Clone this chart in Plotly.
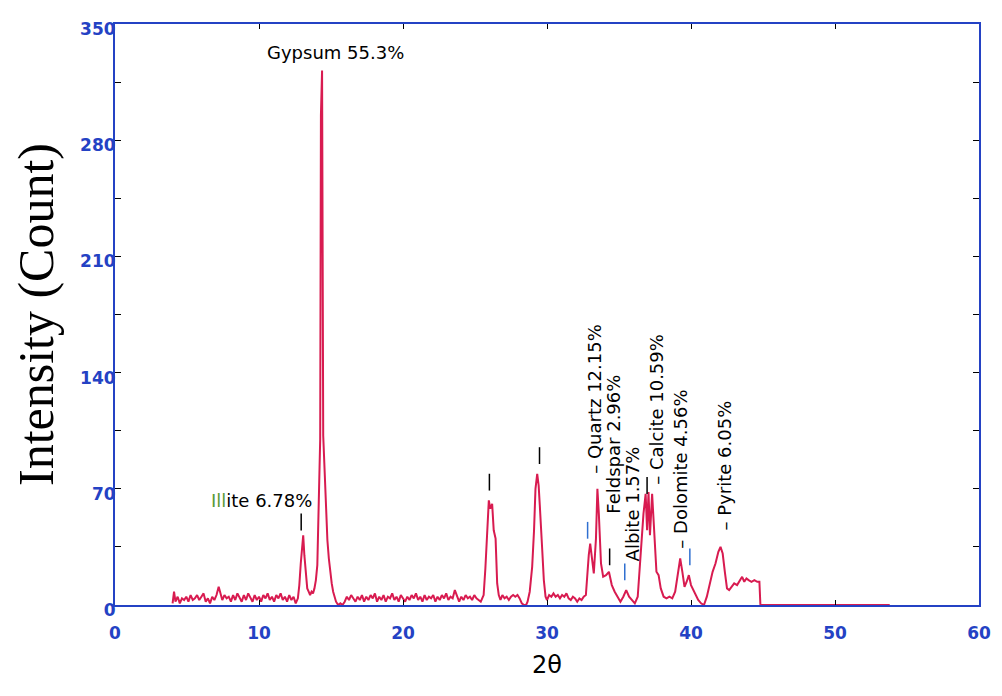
import plotly.graph_objects as go

# XRD pattern
two_theta = [
    4.0, 4.1, 4.2, 4.35, 4.5, 4.65, 4.8, 4.95, 5.1, 5.25, 5.4, 5.55, 5.7, 5.85, 6.0,
    6.15, 6.3, 6.45, 6.6, 6.75, 6.9, 7.05, 7.2, 7.3, 7.45, 7.6, 7.75, 7.9, 8.05, 8.2,
    8.35, 8.5, 8.65, 8.8, 8.95, 9.1, 9.25, 9.4, 9.55, 9.7, 9.85, 10.0, 10.15, 10.3,
    10.45, 10.6, 10.75, 10.9, 11.05, 11.2, 11.35, 11.5, 11.65, 11.8, 11.95, 12.1,
    12.25, 12.4, 12.55, 12.7,
    12.8, 12.9, 13.0, 13.07, 13.15, 13.25, 13.35, 13.45, 13.55, 13.65, 13.75, 13.85,
    13.95, 14.05, 14.15, 14.25, 14.3, 14.38, 14.46, 14.55, 14.65, 14.75, 14.85, 14.95,
    15.05, 15.15, 15.25, 15.35, 15.5, 15.65, 15.8, 15.95,
    16.1, 16.25, 16.4, 16.55, 16.7, 16.85, 17.0, 17.15, 17.3, 17.45, 17.6, 17.75,
    17.9, 18.05, 18.2, 18.35, 18.5, 18.65, 18.8, 18.95, 19.1, 19.25, 19.4, 19.55,
    19.7, 19.85, 20.0, 20.15, 20.3, 20.45, 20.6, 20.75, 20.9, 21.05, 21.2, 21.35,
    21.5, 21.65, 21.8, 21.95, 22.1, 22.25, 22.4, 22.55, 22.7, 22.85, 23.0, 23.15,
    23.3, 23.45, 23.6, 23.75, 23.9, 24.05, 24.2, 24.35, 24.5, 24.65, 24.8, 24.95,
    25.1, 25.25, 25.4,
    25.5, 25.6, 25.72, 25.84, 25.96, 26.06, 26.19, 26.3, 26.43, 26.54, 26.65, 26.77,
    26.9, 27.05, 27.2, 27.35, 27.5, 27.65, 27.8, 27.95, 28.1, 28.25, 28.4, 28.55,
    28.65, 28.8, 28.97, 29.1, 29.2, 29.32, 29.42, 29.5, 29.6, 29.67, 29.78, 29.9, 30.0,
    30.15, 30.3, 30.45, 30.6, 30.75, 30.9, 31.05, 31.2, 31.35, 31.5, 31.65, 31.8,
    31.95, 32.1, 32.25, 32.4, 32.55, 32.7,
    32.8, 32.9, 33.0, 33.1, 33.25, 33.4, 33.5, 33.6, 33.75, 33.9, 34.1, 34.3, 34.5,
    34.7, 34.9, 35.1, 35.3, 35.5, 35.7, 35.9, 36.1, 36.3, 36.5, 36.7, 36.85, 36.95,
    37.05, 37.15, 37.3, 37.45, 37.6, 37.75, 37.9, 38.1, 38.3, 38.5, 38.7, 38.9, 39.1,
    39.25, 39.4, 39.55, 39.7, 39.85, 40.0, 40.15, 40.3, 40.5, 40.7, 40.9, 41.1, 41.3,
    41.5, 41.7, 41.9, 42.05, 42.2, 42.35, 42.5, 42.65, 42.8, 43.0, 43.2, 43.4, 43.55,
    43.7, 43.85, 44.0, 44.2, 44.4, 44.6, 44.75, 44.82, 53.8,
]
intensity = [
    1, 8, 2, 5, 1, 4, 3, 5, 2, 6, 3, 4, 6, 3, 5,
    7, 2, 4, 1, 5, 3, 6, 11, 7, 3, 6, 4, 5, 2, 6,
    3, 7, 4, 2, 6, 3, 7, 4, 2, 6, 3, 5, 2, 6,
    4, 7, 3, 5, 2, 6, 4, 7, 3, 5, 2, 6,
    3, 5, 1, 4,
    12, 25, 38, 42, 30, 18, 10, 8, 6, 8, 7, 10,
    15, 24, 55, 100, 295, 322, 102, 80, 55, 39, 28, 18,
    13, 8, 4, 2, 0, 1, 0, 2,
    5, 3, 6, 4, 2, 5, 3, 6, 2, 5, 3, 6,
    4, 7, 2, 5, 3, 6, 2, 5, 4, 7, 3, 5,
    2, 6, 4, 2, 5, 3, 6, 4, 7, 3, 5, 2,
    6, 3, 5, 4, 6, 2, 5, 3, 6, 4, 7, 3,
    5, 4, 9, 5, 2, 5, 3, 6, 4, 5, 3, 6,
    4, 3, 2,
    4, 6, 22, 40, 63, 58, 61, 45, 40, 13, 6, 3,
    6, 4, 5, 3, 5, 6, 5, 6, 4, 1, 0, 0,
    2, 8, 23, 45, 70, 79, 72, 60, 40, 33, 15, 5, 3,
    6, 5, 7, 5, 6, 4, 6, 5, 7, 4, 3, 5,
    4, 2, 4, 3, 5, 6,
    20, 30, 37, 30, 19, 40, 70, 55, 25, 17, 18, 20, 12,
    8, 5, 2, 5, 9, 5, 3, 1, 5, 30, 55, 67, 45,
    68, 42, 67, 40, 20, 18, 10, 5, 4, 5, 4, 8, 18,
    28, 20, 11, 14, 18, 12, 9, 7, 3, 1, 0, 5, 12,
    20, 25, 32, 35, 31, 20, 10, 9, 11, 13, 12, 15, 17,
    14, 16, 15, 14, 15, 14, 14, 0, 0,
]

# phase labels (vertical ones)
phase_labels = ["– Quartz 12.15%", "Feldspar 2.96%", "Albite 1.57%",
                "– Calcite 10.59%", "– Dolomite 4.56%", "– Pyrite 6.05%"]
phase_x = [33.24, 34.63, 35.95, 37.55, 39.29, 42.35]
phase_y = [124, 97, 61, 118, 82, 84]

# small peak marks
mark_x = [12.93, 26.0, 29.48, 32.82, 34.35, 35.4, 36.95, 39.92]
mark_y = [50, 74, 90, 45, 29, 20, 72, 29]
mark_col = ["black", "black", "black", "#2f6fd0", "black", "#2f6fd0", "black", "#2f6fd0"]

blue = "#2442c4"
label_font = dict(size=18, color="black", family="DejaVu Sans")

fig = go.Figure()
fig.add_trace(go.Scatter(
    x=two_theta, y=intensity, mode="lines",
    line=dict(color="#d81b50", width=2),
    showlegend=False, hoverinfo="skip",
))
fig.add_trace(go.Scatter(
    x=mark_x, y=mark_y, mode="markers",
    marker=dict(symbol="line-ns", size=12, line=dict(width=1.5, color=mark_col)),
    showlegend=False, hoverinfo="skip",
))

ann = [
    dict(x=15.3, y=333, text="Gypsum 55.3%", showarrow=False, font=label_font),
    dict(x=10.2, y=63, text="<span style='color:#5a9a3a'>Ill</span>ite 6.78%",
         showarrow=False, font=label_font),
]
for t, x, y in zip(phase_labels, phase_x, phase_y):
    ann.append(dict(x=x, y=y, text=t, textangle=-90, showarrow=False, font=label_font))

yticks = list(range(0, 351, 35))
ytext = [str(v) if v % 70 == 0 else "" for v in yticks]

# page body has an 8px margin, so the figure is sized to fit the window
fig.update_layout(
    width=994, height=688,
    margin=dict(l=107, r=16, t=11, b=91),
    paper_bgcolor="white", plot_bgcolor="white",
    annotations=ann,
    xaxis=dict(
        range=[0, 60], tickvals=list(range(0, 61, 10)),
        ticks="inside", ticklen=5, tickcolor="black",
        showline=True, linecolor=blue, linewidth=2, mirror="ticks",
        showgrid=False, zeroline=False, ticklabelstandoff=12,
        tickfont=dict(family="DejaVu Sans", size=17, color=blue, weight="bold"),
        title=dict(text="2θ", font=dict(family="DejaVu Sans", size=24, color="black"),
                   standoff=14),
    ),
    yaxis=dict(
        range=[0, 350], tickvals=yticks, ticktext=ytext,
        ticks="inside", ticklen=6, tickcolor="black",
        showline=True, linecolor=blue, linewidth=2, mirror="ticks",
        showgrid=False, zeroline=False, ticklabelshift=5, ticklabelstandoff=-6,
        tickfont=dict(family="DejaVu Sans", size=17, color=blue, weight="bold"),
        title=dict(text="Intensity (Count)",
                   font=dict(family="Liberation Serif", size=50, color="black"),
                   standoff=18),
    ),
)

fig.write_html("out.html")
